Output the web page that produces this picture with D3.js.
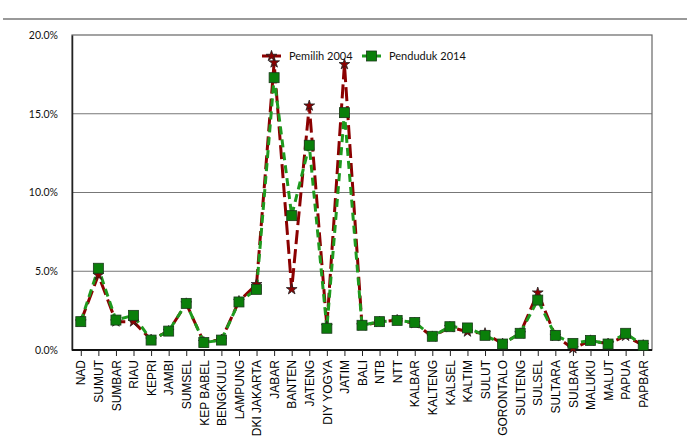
<!DOCTYPE html>
<html><head><meta charset="utf-8">
<script src="https://cdn.jsdelivr.net/npm/d3@7"></script>
<style>body{margin:0;background:#fff}</style>
</head><body>
<svg id="c" width="690" height="443"></svg>
<script>
const categories = ["NAD","SUMUT","SUMBAR","RIAU","KEPRI","JAMBI","SUMSEL","KEP BABEL","BENGKULU","LAMPUNG","DKI JAKARTA","JABAR","BANTEN","JATENG","DIY YOGYA","JATIM","BALI","NTB","NTT","KALBAR","KALTENG","KALSEL","KALTIM","SULUT","GORONTALO","SULTENG","SULSEL","SULTARA","SULBAR","MALUKU","MALUT","PAPUA","PAPBAR"];
const pemilih2004 = [1.8,4.76,1.8,1.8,0.65,1.2,2.95,0.5,0.65,3.1,4.17,18.25,3.85,15.51,1.5,18.14,1.55,1.78,1.9,1.7,0.85,1.45,1.16,1.06,0.4,1.05,3.64,0.88,0.1,0.6,0.4,0.89,0.3];
const penduduk2014 = [1.8,5.19,1.9,2.2,0.63,1.2,2.96,0.47,0.63,3.05,3.85,17.29,8.53,13.0,1.38,15.07,1.57,1.8,1.88,1.75,0.87,1.48,1.4,0.93,0.38,1.06,3.17,0.93,0.42,0.61,0.38,1.06,0.3];
const yTicks = [0,5,10,15,20];
const seriesNames = ["Pemilih 2004","Penduduk 2014"];

const svg = d3.select("#c");
const L=72, R=652, T=35, B=350;
const x = d3.scalePoint().domain(categories).range([L,R]).padding(0.5);
const y = d3.scaleLinear().domain([0,20]).range([B,T]);

// top rule
svg.append("line").attr("x1",3).attr("x2",687).attr("y1",19).attr("y2",19).attr("stroke","#999").attr("stroke-width",2);

// gridlines
svg.append("g").selectAll("line").data(yTicks.slice(1,4)).join("line")
  .attr("x1",L).attr("x2",R).attr("y1",d=>y(d)).attr("y2",d=>y(d)).attr("stroke","#777").attr("stroke-width",1);
// border
svg.append("rect").attr("x",L).attr("y",T).attr("width",R-L).attr("height",B-T).attr("fill","none").attr("stroke","#666").attr("stroke-width",1.2);

// y axis
const ya = svg.append("g").attr("transform",`translate(${L},0)`).call(d3.axisLeft(y).tickValues(yTicks).tickSize(0).tickPadding(14).tickFormat(d=>d.toFixed(1)+"%"));
ya.select(".domain").attr("stroke","#222").attr("stroke-width",1.5);
ya.selectAll("text").attr("font-family","Lato, 'Open Sans', sans-serif").attr("font-size",10.5).attr("fill","#111");

// x axis
const xa = svg.append("g").attr("transform",`translate(0,${B})`).call(d3.axisBottom(x).tickSize(6).tickPadding(4));
xa.select(".domain").attr("stroke","#111").attr("stroke-width",2).attr("d",`M${L},0H${R}`);
xa.selectAll(".tick line").attr("stroke","#222");
xa.selectAll("text").attr("font-family","'Liberation Sans', Arial, sans-serif").attr("font-size",12).attr("fill","#000")
  .attr("transform","rotate(-90)").attr("text-anchor","end").attr("dy","0.35em").attr("x",-10).attr("y",0);

const line = d3.line().x((d,i)=>x(categories[i])).y(d=>y(d));
const redC="#8b0000", greenC="#1e9a1e";
svg.append("path").datum(pemilih2004).attr("d",line).attr("fill","none").attr("stroke",redC).attr("stroke-width",3).attr("stroke-dasharray","14,5");
svg.append("path").datum(penduduk2014).attr("d",line).attr("fill","none").attr("stroke",greenC).attr("stroke-width",3).attr("stroke-dasharray","8,5");

const star = d3.symbol().type(d3.symbolStar).size(36);
svg.append("g").selectAll("path").data(pemilih2004).join("path")
  .attr("d",star).attr("transform",(d,i)=>`translate(${x(categories[i])},${y(d)})`)
  .attr("fill",redC).attr("stroke","#222").attr("stroke-width",0.8);
svg.append("g").selectAll("rect").data(penduduk2014).join("rect")
  .attr("x",(d,i)=>x(categories[i])-5).attr("y",d=>y(d)-5).attr("width",10).attr("height",10)
  .attr("fill","#0a7f0a").attr("stroke","#1a3a1a").attr("stroke-width",0.8);

// legend
const lg = svg.append("g");
const items=[{n:seriesNames[0],x:262,c:redC,m:"star"},{n:seriesNames[1],x:362,c:greenC,m:"sq"}];
items.forEach(it=>{
  lg.append("line").attr("x1",it.x).attr("x2",it.x+19).attr("y1",56).attr("y2",56).attr("stroke",it.c).attr("stroke-width",3);
  if(it.m==="star") lg.append("path").attr("d",star).attr("transform",`translate(${it.x+9.5},56)`).attr("fill",redC).attr("stroke","#222").attr("stroke-width",0.8);
  else lg.append("rect").attr("x",it.x+4.5).attr("y",51).attr("width",10).attr("height",10).attr("fill","#0a7f0a").attr("stroke","#1a3a1a").attr("stroke-width",0.8);
  lg.append("text").attr("x",it.x+27).attr("y",56).attr("dy","0.35em").text(it.n)
    .attr("font-family","Lato, 'Open Sans', sans-serif").attr("font-size",11).attr("fill","#111");
});
</script>
</body></html>
